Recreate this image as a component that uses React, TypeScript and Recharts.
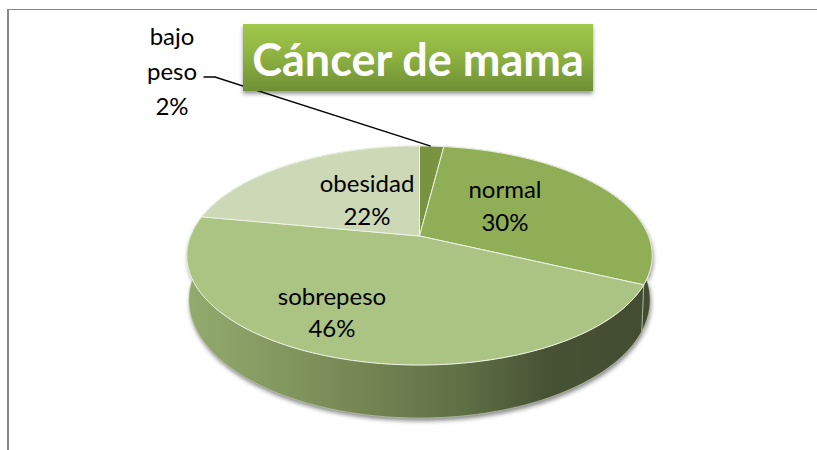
import React from "react";
import { PieChart, Pie } from "recharts";

const categories = ["bajo peso", "normal", "sobrepeso", "obesidad"];
const values = [2, 30, 46, 22];
const topColors = ["#7A9340", "#90AE55", "#ABC484", "#CDD8B6"];
const chartData = categories.map((name, i) => ({ name, value: values[i] }));

const W = 817;
const H = 450;
const FONT = "Lato, 'Open Sans', sans-serif";
const CX = 419.5;
const CY = 236;
const R = 229;

// Perspective of the tilted disc
const PERSP = -0.178;
const TOP_FACE = { sx: 1, sy: 0.463, dy: 0 };
const BOTTOM_FACE = { sx: 0.991, sy: 0.499, dy: 43 };

type Face = { sx: number; sy: number; dy: number };

function project(cx: number, cy: number, r: number, deg: number, face: Face, f = 1) {
  const a = (deg * Math.PI) / 180;
  const u = Math.cos(a) * f;
  const v = -Math.sin(a) * f;
  const d = 1 + PERSP * v;
  return { x: cx + (r * face.sx * u) / d, y: cy + face.dy + (r * face.sy * v) / d };
}

function arcPoints(p: any, face: Face, reverse = false) {
  const pts: string[] = [];
  const n = Math.max(2, Math.ceil(Math.abs(p.endAngle - p.startAngle)));
  for (let i = 0; i <= n; i++) {
    const t = reverse ? 1 - i / n : i / n;
    const q = project(p.cx, p.cy, p.outerRadius, p.startAngle + (p.endAngle - p.startAngle) * t, face);
    pts.push(`${q.x.toFixed(2)},${q.y.toFixed(2)}`);
  }
  return pts;
}

function TopShape(p: any) {
  const apex = `${p.cx},${p.cy}`;
  return (
    <path
      d={`M${apex} L${arcPoints(p, TOP_FACE).join(" L")} Z`}
      fill={topColors[categories.indexOf(p.name ?? p.payload?.name)]}
      stroke="#EEF2E4"
      strokeWidth={1}
      strokeLinejoin="round"
    />
  );
}

function wallPath(p: any) {
  return `M${arcPoints(p, TOP_FACE).join(" L")} L${arcPoints(p, BOTTOM_FACE, true).join(" L")} Z`;
}

function WallShape(p: any) {
  return <path d={wallPath(p)} fill="url(#wallGrad)" stroke="#C9D1B8" strokeWidth={0.6} />;
}

function ShadowShape(p: any) {
  return <path d={wallPath(p)} fill="#8a8a8a" filter="url(#wallBlur)" transform="translate(1,3)" />;
}

const LABEL_ANCHORS = [
  { x: 172, y: 35, step: 35 },
  { x: 505, y: 188, step: 33 },
  { x: 332, y: 295, step: 32 },
  { x: 367, y: 182, step: 33 },
];

function renderLabel(p: any) {
  const i = categories.indexOf(p.name);
  const a = LABEL_ANCHORS[i];
  const lines = [...String(p.name).split(" "), `${Math.round(p.percent * 100)}%`];
  const end = project(CX, CY, R, p.midAngle, TOP_FACE);
  return (
    <g key={p.name}>
      {i === 0 && (
        <polyline
          points={`203.5,77 215,77 ${end.x - 1},${end.y}`}
          fill="none"
          stroke="#000"
          strokeWidth={1.4}
        />
      )}
      {lines.map((t, k) => (
        <text
          key={t}
          x={a.x}
          y={a.y + k * a.step}
          textAnchor="middle"
          dominantBaseline="central"
          fontFamily={FONT}
          fontSize={24}
          fill="#000"
        >
          {t}
        </text>
      ))}
    </g>
  );
}

export default function App() {
  const common = {
    data: chartData,
    dataKey: "value",
    nameKey: "name",
    cx: CX,
    cy: CY,
    outerRadius: R,
    startAngle: 90,
    endAngle: -270,
    isAnimationActive: false,
    legendType: "none" as const,
    stroke: "none",
  };
  return (
    <div style={{ position: "absolute", left: 0, top: 0, width: W, height: H, background: "#fff", overflow: "hidden" }}>
      <div style={{ position: "absolute", left: 7, top: 9, width: W, height: H, borderLeft: "2px solid #868686", borderTop: "1.5px solid #868686" }} />
      <div style={{ position: "absolute", left: 0, top: 0 }}>
        <PieChart width={W} height={H} margin={{ top: 0, right: 0, bottom: 0, left: 0 }}>
          <defs>
            <linearGradient id="wallGrad" gradientUnits="userSpaceOnUse" x1={186} y1={0} x2={652} y2={0}>
              <stop offset="0" stopColor="#93AB6E" />
              <stop offset="0.3" stopColor="#7B8E59" />
              <stop offset="0.6" stopColor="#5E6F44" />
              <stop offset="0.78" stopColor="#475134" />
              <stop offset="1" stopColor="#434C30" />
            </linearGradient>
            <filter id="wallBlur" x="-10%" y="-10%" width="120%" height="120%">
              <feGaussianBlur stdDeviation="2" />
            </filter>
          </defs>
          <Pie {...common} shape={ShadowShape} />
          <Pie {...common} shape={WallShape} />
          <Pie {...common} shape={TopShape} label={renderLabel} labelLine={false} />
        </PieChart>
      </div>
      <div
        style={{
          position: "absolute",
          left: 243,
          top: 24,
          width: 350,
          height: 67,
          background: "linear-gradient(180deg,#A0C84A 0%,#8FB342 45%,#6F8F35 100%)",
          boxShadow: "0 3px 4px rgba(0,0,0,0.4)",
          color: "#fff",
          fontFamily: FONT,
          fontWeight: 700,
          fontSize: 45,
          lineHeight: "70px",
          textAlign: "center",
          whiteSpace: "nowrap",
        }}
      >
        Cáncer de mama
      </div>
    </div>
  );
}
